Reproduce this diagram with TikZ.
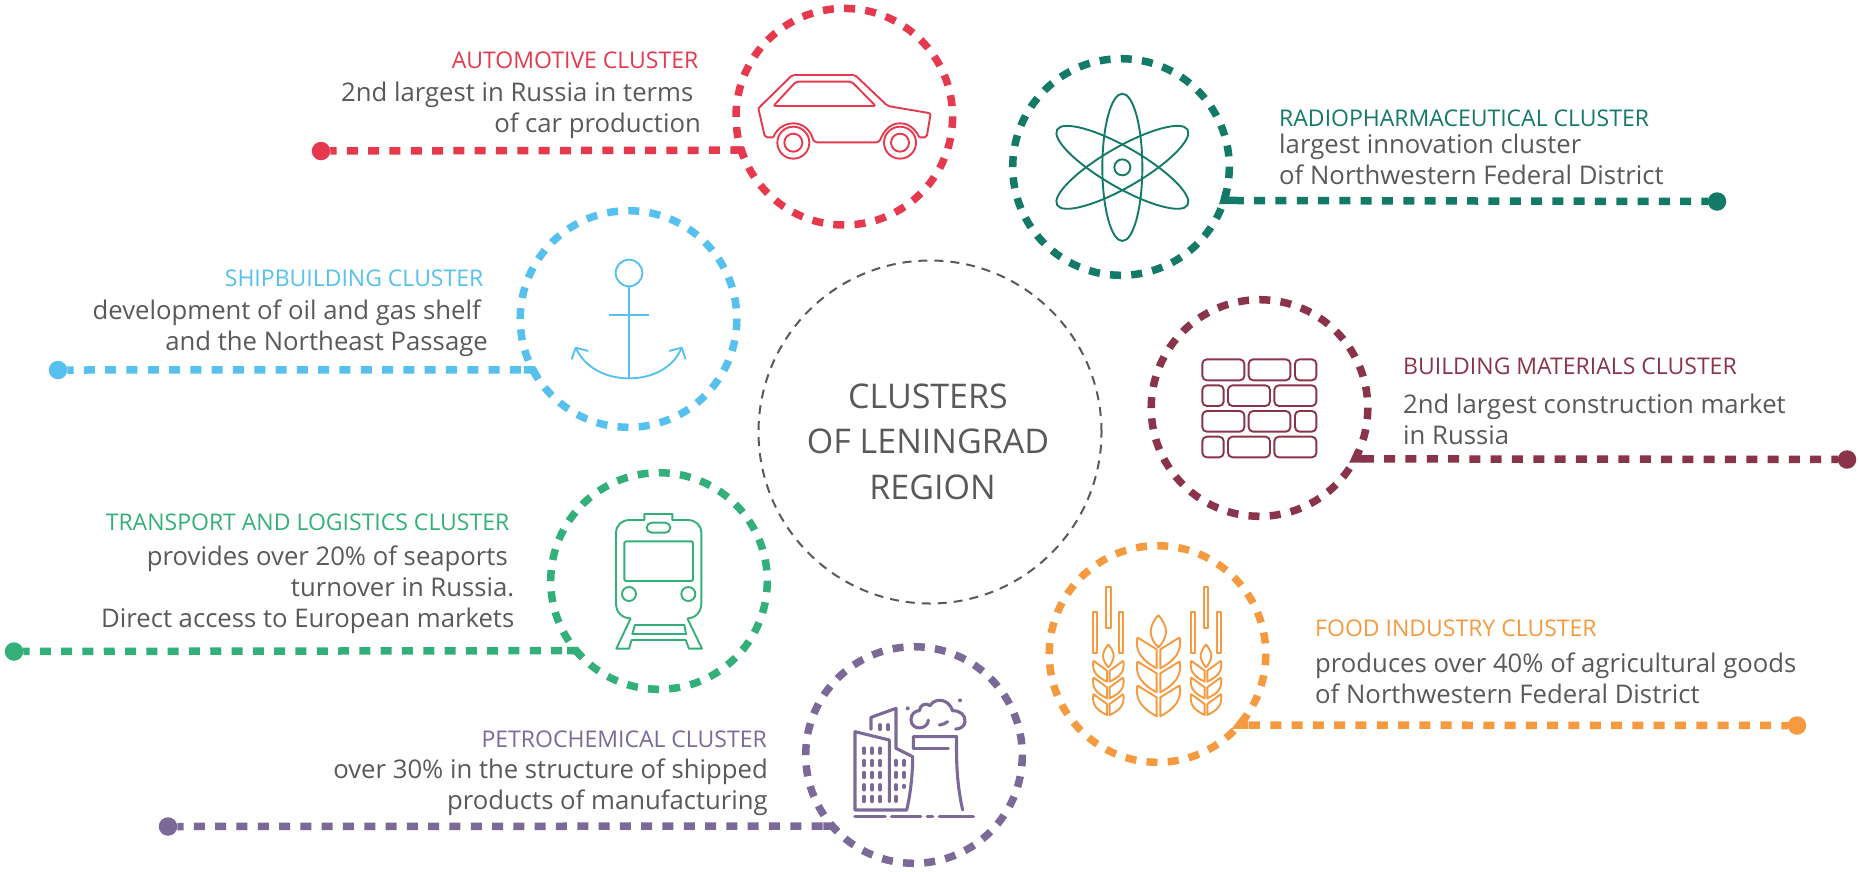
\documentclass[tikz,border=0pt]{standalone}
\usepackage{fontspec}
\setmainfont{Open Sans}
\definecolor{cred}{HTML}{E6394D}
\definecolor{cteal}{HTML}{137A68}
\definecolor{csky}{HTML}{56C1EE}
\definecolor{cmar}{HTML}{8A344B}
\definecolor{cgrn}{HTML}{33B07A}
\definecolor{corg}{HTML}{F59A3F}
\definecolor{cpur}{HTML}{7B6A97}
\definecolor{ctxt}{HTML}{58595B}
\tikzset{
  ring/.style={circle,draw=#1,line width=7.5pt,minimum size=216.6pt,inner sep=0pt,outer sep=0pt,dash pattern=on 11pt off 10.25pt,dash phase=10.65pt},
  lead/.style={draw=#1,line width=7.5pt,dash pattern=on 11pt off 10.3pt,dash phase=4.7pt},
  stub/.style={draw=#1,line width=7.5pt},
  leaddot/.style={circle,fill=#1,minimum size=18.5pt,inner sep=0pt,outer sep=0pt},
  ttl/.style={text=#1,font=\fontsize{23}{27}\selectfont,inner sep=0pt},
  dsc/.style={text=ctxt,font=\fontsize{25.7}{31}\selectfont,inner sep=0pt},
  icon/.style={draw=#1,line width=1.9pt,line join=round},
  fat/.style={draw=cpur,line width=3.1pt,line cap=round,line join=round},
  zoomed/.style={x=0.33333pt,y=-0.33333pt}
}
\begin{document}
\begin{tikzpicture}[x=1pt,y=-1pt]
\useasboundingbox (0,0) rectangle (1859,871);
% centre
\node[circle,draw=ctxt,line width=2pt,minimum size=343pt,inner sep=0pt,outer sep=0pt,dash pattern=on 9pt off 7pt] (hub) at (930,432) {};
\node[text=ctxt,font=\fontsize{34}{45.5}\selectfont,align=center,inner sep=0pt,anchor=base] (hubtext) at (928,499) {CLUSTERS\\OF LENINGRAD\\\hspace*{9pt}REGION};
% rings
\node[ring=cred] (car) at (844.3,116.7) {};
\node[ring=cteal] (atom) at (1121,167) {};
\node[ring=csky] (ship) at (628.5,319) {};
\node[ring=cmar] (brick) at (1259.5,408) {};
\node[ring=cgrn] (train) at (659,581) {};
\node[ring=corg] (food) at (1157.5,654) {};
\node[ring=cpur] (petro) at (914,755) {};
% dots
\node[leaddot=cred] (dcar) at (321,151) {};
\node[leaddot=cteal] (datom) at (1717,201.5) {};
\node[leaddot=csky] (dship) at (58,370) {};
\node[leaddot=cmar] (dbrick) at (1847,459.5) {};
\node[leaddot=cgrn] (dtrain) at (14,651.5) {};
\node[leaddot=corg] (dfood) at (1797,725.5) {};
\node[leaddot=cpur] (dpetro) at (168,826.5) {};
% leads
\draw[lead=cred] (dcar) -- (car.198.5);
\draw[stub=cred] ([xshift=-9pt]car.198.5) -- (car.198.5) -- (car.202);
\draw[lead=cteal] (datom) -- (atom.-18.7);
\draw[stub=cteal] ([xshift=9pt]atom.-18.7) -- (atom.-18.7) -- (atom.-13);
\draw[lead=csky] (dship) -- (ship.208);
\draw[stub=csky] ([xshift=-9pt]ship.208) -- (ship.208) -- (ship.213);
\draw[lead=cmar] (dbrick) -- (brick.-28);
\draw[stub=cmar] ([xshift=9pt]brick.-28) -- (brick.-28) -- (brick.-24.6);
\draw[lead=cgrn] (dtrain) -- (train.220.6);
\draw[stub=cgrn] ([xshift=-9pt]train.220.6) -- (train.220.6) -- (train.225.3);
\draw[lead=corg] (dfood) -- (food.-41.3);
\draw[stub=corg] ([xshift=9pt]food.-41.3) -- (food.-41.3) -- (food.-35.4);
\draw[lead=cpur] (dpetro) -- (petro.221.3);
\draw[stub=cpur] ([xshift=-9pt]petro.221.3) -- (petro.221.3) -- (petro.225);
% texts
\node[ttl=cred,anchor=base east] (t1) at (698.5,68) {AUTOMOTIVE CLUSTER};
\node[dsc,anchor=base east,align=right] (d1) at (701,132.7) {2nd largest in Russia in terms\hspace*{7.5pt}\\of car production};
\node[ttl=cteal,anchor=base west] (t2) at (1279,126) {RADIOPHARMACEUTICAL CLUSTER};
\node[dsc,anchor=base west,align=left] (d2) at (1279,184) {largest innovation cluster\\of Northwestern Federal District};
\node[ttl=csky,anchor=base east] (t3) at (483.5,286.7) {SHIPBUILDING CLUSTER};
\node[dsc,anchor=base east,align=right] (d3) at (488,350.7) {development of oil and gas shelf\hspace*{7pt}\\and the Northeast Passage};
\node[ttl=cmar,anchor=base west] (t4) at (1403,374) {BUILDING MATERIALS CLUSTER};
\node[dsc,anchor=base west,align=left] (d4) at (1403,444) {2nd largest construction market\\in Russia};
\node[ttl=cgrn,anchor=base east] (t5) at (509.5,530.7) {TRANSPORT AND LOGISTICS CLUSTER};
\node[dsc,anchor=base east,align=right] (d5) at (514.5,627.5) {provides over 20\% of seaports\hspace*{6.5pt}\\turnover in Russia.\\Direct access to European markets};
\node[ttl=corg,anchor=base west] (t6) at (1315,636) {FOOD INDUSTRY CLUSTER};
\node[dsc,anchor=base west,align=left] (d6) at (1315,703) {produces over 40\% of agricultural goods\\of Northwestern Federal District};
\node[ttl=cpur,anchor=base east] (t7) at (767,747.5) {PETROCHEMICAL CLUSTER};
\node[dsc,anchor=base east,align=right] (d7) at (768,809) {over 30\% in the structure of shipped\\products of manufacturing};
% car icon
\begin{scope}[shift={(720,0)},zoomed]
\draw[icon=cred,rounded corners=2pt] (115,325) -- (217,225) -- (405,225) -- (503,318) -- (632,340) -- (620,412) -- (598,412);
\draw[icon=cred] (598,412) .. controls (585,385) and (565,370) .. (540,370) .. controls (515,370) and (495,385) .. (480,420);
\draw[icon=cred,rounded corners=2pt] (480,420) -- (477,427) -- (284,427) -- (280,420);
\draw[icon=cred] (280,420) .. controls (270,385) and (245,370) .. (220,370) .. controls (195,370) and (170,385) .. (160,412);
\draw[icon=cred,rounded corners=2pt] (160,412) -- (135,412) -- (115,325);
\draw[icon=cred,rounded corners=2pt] (160,318) -- (228,245) -- (395,245) -- (467,318) -- cycle;
\foreach \wx in {220,540}{
  \draw[icon=cred] (\wx,428) circle (48);
  \draw[icon=cred] (\wx,428) circle (27);
}
\end{scope}
% atom icon
\begin{scope}[shift={(1000,80)},zoomed]
\draw[icon=cteal] (367,262) circle (24);
\draw[icon=cteal] (367,262) ellipse [x radius=60,y radius=221];
\draw[icon=cteal,rotate around={60:(367,262)}] (367,262) ellipse [x radius=60,y radius=226];
\draw[icon=cteal,rotate around={-60:(367,262)}] (367,262) ellipse [x radius=60,y radius=226];
\end{scope}
% anchor icon
\begin{scope}[shift={(510,200)},zoomed]
\draw[icon=csky] (357,219) circle (40);
\draw[icon=csky] (357,259) -- (357,535);
\draw[icon=csky] (296,344) -- (418,344);
\draw[icon=csky] (197,443) .. controls (225,505) and (290,535) .. (357,535) .. controls (425,535) and (490,505) .. (515,443);
\draw[icon=csky] (185,478) -- (197,443) -- (235,453);
\draw[icon=csky] (527,478) -- (515,443) -- (478,453);
\end{scope}
% brick icon
\begin{scope}[shift={(1140,290)},zoomed]
\foreach \ya/\yb in {208/271,363/425}{
  \foreach \xa/\xb in {187/313,326/451,465/529}{
    \draw[icon=cmar,rounded corners=4.5pt] (\xa,\ya) rectangle (\xb,\yb);
  }
}
\foreach \ya/\yb in {286/348,440/502}{
  \foreach \xa/\xb in {187/251,264/390,403/529}{
    \draw[icon=cmar,rounded corners=4.5pt] (\xa,\ya) rectangle (\xb,\yb);
  }
}
\end{scope}
% train icon
\begin{scope}[shift={(540,470)},zoomed]
\draw[icon=cgrn] (272,445) .. controls (245,445) and (228,425) .. (228,400) -- (228,190) .. controls (228,165) and (245,150) .. (270,150) -- (313,150) -- (313,132) -- (397,132) -- (397,150) -- (442,150) .. controls (467,150) and (484,165) .. (484,190) -- (484,400) .. controls (484,425) and (467,445) .. (442,445);
\draw[icon=cgrn,rounded corners=5pt] (320,158) rectangle (391,188);
\draw[icon=cgrn,rounded corners=1.5pt] (253,214) rectangle (459,333);
\draw[icon=cgrn] (267,372) circle (21);
\draw[icon=cgrn] (445,372) circle (21);
\draw[icon=cgrn] (272,445) -- (229,536) -- (267,536) -- (275,510) -- (437,510) -- (447,536) -- (486,536) -- (442,445);
\draw[icon=cgrn] (285,465) -- (433,465) -- (438,492) -- (277,492) -- cycle;
\end{scope}
% wheat icon
\begin{scope}[shift={(1040,540)},zoomed]
\foreach \gx in {0,293}{
  \begin{scope}[shift={(\gx,0)}]
    \draw[icon=corg] (160,215) rectangle (172,338);
    \draw[icon=corg] (199,140) rectangle (212,263);
    \draw[icon=corg] (238,215) rectangle (250,338);
    \draw[icon=corg] (205,313) .. controls (195,325) and (189,338) .. (189,348) .. controls (189,360) and (198,375) .. (205,382) .. controls (212,375) and (221,360) .. (221,348) .. controls (221,338) and (215,325) .. (205,313);
    \foreach \ly in {0,50,100}{
      \draw[icon=corg] (160,{362+\ly}) -- (201,{392+\ly}) -- (201,{425+\ly}) .. controls (170,{410+\ly}) and (155,{395+\ly}) .. (160,{362+\ly});
      \draw[icon=corg] (250,{362+\ly}) -- (209,{392+\ly}) -- (209,{425+\ly}) .. controls (240,{410+\ly}) and (255,{395+\ly}) .. (250,{362+\ly});
    }
  \end{scope}
}
\draw[icon=corg] (355,225) .. controls (342,240) and (332,258) .. (332,275) .. controls (332,295) and (345,312) .. (355,322) .. controls (365,312) and (378,295) .. (378,275) .. controls (378,258) and (368,240) .. (355,225);
\foreach \ly in {0,72,144}{
  \draw[icon=corg] (292,{292+\ly}) -- (350,{328+\ly}) -- (350,{385+\ly}) .. controls (305,{360+\ly}) and (285,{335+\ly}) .. (292,{292+\ly});
  \draw[icon=corg] (419,{292+\ly}) -- (361,{328+\ly}) -- (361,{385+\ly}) .. controls (406,{360+\ly}) and (426,{335+\ly}) .. (419,{292+\ly});
}
\end{scope}
% petro icon
\begin{scope}[shift={(800,640)},zoomed]
\foreach \xa/\xb in {165/255,275/362,382/398,418/520}{
  \draw[fat,line width=3.6pt] (\xa,530) -- (\xb,530);
}
\draw[fat] (268,485) -- (268,300) -- (165,275) -- (165,510) -- (320,510) .. controls (332,460) and (338,400) .. (338,350) -- (288,325) -- (288,205) -- (213,232) -- (213,268);
\draw[fat] (340,325) -- (340,290) -- (470,290) .. controls (468,370) and (472,440) .. (488,510);
\draw[fat] (340,325) -- (445,325);
\foreach \wx in {192,216,240}{
  \foreach \wy in {325,362,398,435,470}{
    \draw[fat,line width=3.8pt] (\wx,\wy) -- (\wx,\wy+14);
  }
}
\foreach \wx/\wy in {288/362,312/362,288/398,312/398,288/435,288/470,240/255,264/255}{
  \draw[fat,line width=3.8pt] (\wx,\wy) -- (\wx,\wy+13);
}
\draw[fat,line width=3.8pt] (312,437) -- (312,441);
\draw[fat] (385,240) .. controls (385,268) and (335,275) .. (333,240) .. controls (333,222) and (345,212) .. (358,212) .. controls (360,192) and (380,188) .. (390,197) .. controls (405,172) and (445,175) .. (458,212) .. controls (480,212) and (497,225) .. (495,245) .. controls (495,258) and (480,268) .. (467,267);
\draw[fat] (418,255) .. controls (427,255) and (436,250) .. (443,245);
\fill[cpur] (323,205) circle (6);
\fill[cpur] (480,181) circle (6);
\end{scope}
\end{tikzpicture}
\end{document}
